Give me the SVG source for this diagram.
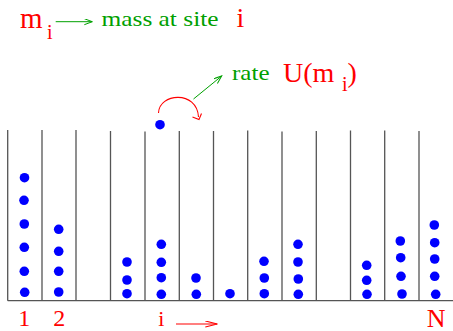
<svg xmlns="http://www.w3.org/2000/svg" width="453" height="331" viewBox="0 0 453 331">
<style>
.wall{stroke:#555;stroke-width:1.3;fill:none}
.dot{fill:#0000ff}
.red{fill:#ff0000;font-family:"Liberation Serif","Times New Roman",serif}
.grn{fill:#00a000;font-family:"Liberation Serif","Times New Roman",serif}
.ga{stroke:#00a000;stroke-width:1;fill:none}
.ra{stroke:#ff0000;stroke-width:1.1;fill:none}
</style>
<defs>
<marker id="gh" markerUnits="userSpaceOnUse" markerWidth="10" markerHeight="8" refX="8" refY="3" orient="auto">
<path d="M0,0 L8,3 L0,6" stroke="#00a000" stroke-width="1" fill="none"/>
</marker>
<marker id="rh" markerUnits="userSpaceOnUse" markerWidth="14" markerHeight="8" refX="12" refY="3.5" orient="auto">
<path d="M0,0.5 L12,3.5 L0,6.5" stroke="#ff0000" stroke-width="1.1" fill="none"/>
</marker>
</defs>
<rect width="453" height="331" fill="#fff"/>
<g id="lattice">
<path class="wall" d="M7.7,130V300.7M42,130V300.7M76,130V300.7M110.5,131V300.7M145,131.5V300.7M179.3,131V300.7M213.5,131V300.7M247.7,130.5V300.7M282,131.5V300.7M316.3,131V300.7M350.5,130.5V300.7M384.7,130.5V300.7M419,131V300.7M7.7,300.7H453"/>
</g>
<g id="site-1"><circle class="dot" cx="24.5" cy="177.7" r="4.8"/><circle class="dot" cx="24" cy="200.3" r="4.8"/><circle class="dot" cx="24.3" cy="224" r="4.8"/><circle class="dot" cx="24.3" cy="247.3" r="4.8"/><circle class="dot" cx="24.3" cy="271.3" r="4.8"/><circle class="dot" cx="24.7" cy="292.3" r="4.8"/></g>
<g id="site-2"><circle class="dot" cx="58.7" cy="229.3" r="4.8"/><circle class="dot" cx="58.7" cy="251.3" r="4.8"/><circle class="dot" cx="58.7" cy="271.3" r="4.8"/><circle class="dot" cx="58.7" cy="292" r="4.8"/></g>
<g id="site-3"></g>
<g id="site-4"><circle class="dot" cx="127" cy="262" r="4.8"/><circle class="dot" cx="127" cy="280" r="4.8"/><circle class="dot" cx="127" cy="293.7" r="4.8"/></g>
<g id="site-i"><circle class="dot" cx="161.3" cy="244.3" r="4.8"/><circle class="dot" cx="161.3" cy="262.3" r="4.8"/><circle class="dot" cx="161.3" cy="277.7" r="4.8"/><circle class="dot" cx="161.3" cy="294.3" r="4.8"/><circle class="dot" cx="160" cy="124.7" r="4.8"/></g>
<g id="site-6"><circle class="dot" cx="196" cy="278" r="4.8"/><circle class="dot" cx="196.3" cy="294.3" r="4.8"/></g>
<g id="site-7"><circle class="dot" cx="230" cy="293.7" r="4.8"/></g>
<g id="site-8"><circle class="dot" cx="264" cy="261.3" r="4.8"/><circle class="dot" cx="264.3" cy="278" r="4.8"/><circle class="dot" cx="264.3" cy="293.7" r="4.8"/></g>
<g id="site-9"><circle class="dot" cx="298" cy="244.3" r="4.8"/><circle class="dot" cx="298" cy="262" r="4.8"/><circle class="dot" cx="298.3" cy="279" r="4.8"/><circle class="dot" cx="298.3" cy="294.3" r="4.8"/></g>
<g id="site-10"></g>
<g id="site-11"><circle class="dot" cx="366.7" cy="265.3" r="4.8"/><circle class="dot" cx="366.7" cy="280.3" r="4.8"/><circle class="dot" cx="367" cy="294.3" r="4.8"/></g>
<g id="site-12"><circle class="dot" cx="400.3" cy="241" r="4.8"/><circle class="dot" cx="400.7" cy="257.7" r="4.8"/><circle class="dot" cx="401" cy="276.3" r="4.8"/><circle class="dot" cx="402" cy="294" r="4.8"/></g>
<g id="site-N"><circle class="dot" cx="434.3" cy="225" r="4.8"/><circle class="dot" cx="434.7" cy="242.7" r="4.8"/><circle class="dot" cx="434.7" cy="259" r="4.8"/><circle class="dot" cx="434.7" cy="276.3" r="4.8"/><circle class="dot" cx="435.7" cy="294.3" r="4.8"/></g>
<g id="connectors">
<line class="ga" x1="55.7" y1="21.7" x2="92.3" y2="21.7" marker-end="url(#gh)"/>
<line class="ga" x1="193.5" y1="99" x2="221.7" y2="76" marker-end="url(#gh)"/>
<path class="ra" d="M158.5,113 C159,93 197,90 198.5,117"/>
<path class="ra" d="M192.5,117 L199,119.5 L201.5,113.5"/>
<line class="ra" x1="176" y1="324" x2="217.3" y2="324" marker-end="url(#rh)"/>
</g>
<g id="legend">
<text class="red" x="20" y="28.3" font-size="29">m</text>
<text class="red" x="47" y="39" font-size="20">i</text>
<text class="grn" x="101.5" y="26" font-size="22" textLength="117" lengthAdjust="spacingAndGlyphs">mass at site</text>
<text class="red" x="236.5" y="26.7" font-size="28">i</text>
<text class="grn" x="232" y="80" font-size="21" textLength="37.5" lengthAdjust="spacingAndGlyphs">rate</text>
<text class="red" x="283" y="81.7" font-size="28">U(m</text>
<text class="red" x="342" y="90.7" font-size="20">i</text>
<text class="red" x="347.5" y="81.7" font-size="28">)</text>
</g>
<g id="axis-labels">
<text class="red" x="24.2" y="326" font-size="24" text-anchor="middle">1</text>
<text class="red" x="59.3" y="326" font-size="24" text-anchor="middle">2</text>
<text class="red" x="161.2" y="326" font-size="22" text-anchor="middle">i</text>
<text class="red" x="436.2" y="326.5" font-size="26" text-anchor="middle">N</text>
</g>
</svg>
